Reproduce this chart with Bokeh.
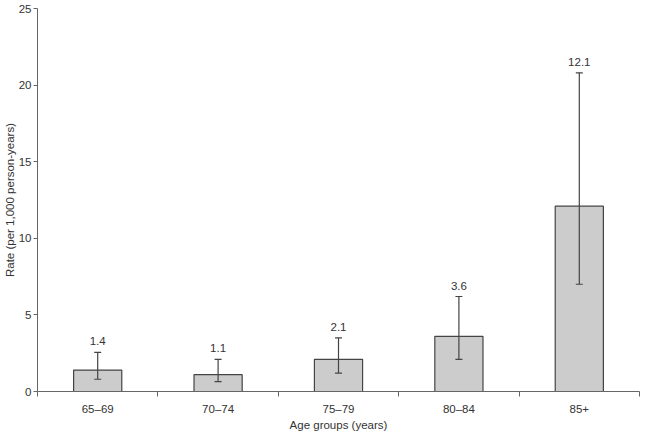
import numpy as np
from bokeh.plotting import figure
from bokeh.models import (ColumnDataSource, FactorRange, Range1d, LinearAxis,
                          FixedTicker, Whisker, TeeHead)
from bokeh.embed import file_html
from bokeh.resources import INLINE
from bokeh.core.properties import value

categories = ["65–69", "70–74", "75–79", "80–84", "85+"]
rates = [1.4, 1.1, 2.1, 3.6, 12.1]
lower_ci = [0.8, 0.65, 1.2, 2.1, 7.0]
upper_ci = [2.55, 2.1, 3.5, 6.2, 20.8]
rate_labels = ["1.4", "1.1", "2.1", "3.6", "12.1"]
y_ticks = [0, 5, 10, 15, 20, 25]

FONT = "Liberation Sans"
AXIS_COLOR = "#666666"
TEXT_COLOR = "#333333"

source = ColumnDataSource(dict(x=categories, rate=rates, lower=lower_ci,
                               upper=upper_ci, label=rate_labels))

p = figure(width=640, height=433,
           x_range=FactorRange(*categories, range_padding=0),
           y_range=Range1d(0, 25),
           x_axis_type=None, y_axis_type=None,
           output_backend="svg", toolbar_location=None)
p.min_border_top = 8
p.min_border_right = 1
p.min_border_left = 0
p.min_border_bottom = 0
p.outline_line_color = None
p.xgrid.visible = False
p.ygrid.visible = False
p.background_fill_color = "white"
p.border_fill_color = "white"

# x axis: labels at category centres, ticks at category boundaries
n = len(categories)
centers = list(np.arange(n) + 0.5)
bounds = list(np.arange(n + 1).astype(float))
xaxis = LinearAxis(ticker=FixedTicker(ticks=centers, minor_ticks=bounds))
xaxis.major_label_overrides = {float(c): cat for c, cat in zip(centers, categories)}
xaxis.major_tick_line_color = None
xaxis.minor_tick_in = 0
xaxis.minor_tick_out = 5
xaxis.minor_tick_line_color = AXIS_COLOR
xaxis.axis_line_color = AXIS_COLOR
xaxis.axis_label = "Age groups (years)"
xaxis.axis_label_text_font = FONT
xaxis.axis_label_text_font_style = "normal"
xaxis.axis_label_text_font_size = "11.5px"
xaxis.axis_label_text_color = TEXT_COLOR
xaxis.axis_label_standoff = 1
xaxis.major_label_text_font = FONT
xaxis.major_label_text_font_size = "11.5px"
xaxis.major_label_text_color = TEXT_COLOR
xaxis.major_label_standoff = 5
p.add_layout(xaxis, "below")

yaxis = LinearAxis(ticker=FixedTicker(ticks=y_ticks))
yaxis.minor_tick_line_color = None
yaxis.major_tick_in = 0
yaxis.major_tick_out = 4
yaxis.major_tick_line_color = AXIS_COLOR
yaxis.axis_line_color = AXIS_COLOR
yaxis.axis_label = "Rate (per 1,000 person-years)"
yaxis.axis_label_text_font = FONT
yaxis.axis_label_text_font_style = "normal"
yaxis.axis_label_text_font_size = "11.5px"
yaxis.axis_label_text_color = TEXT_COLOR
yaxis.axis_label_standoff = 0
yaxis.major_label_text_font = FONT
yaxis.major_label_text_font_size = "11.5px"
yaxis.major_label_text_color = TEXT_COLOR
yaxis.major_label_standoff = 2
p.add_layout(yaxis, "left")

p.vbar(x="x", top="rate", width=0.4, source=source,
       fill_color="#cccccc", line_color="#444444", line_width=1.2)

whisker = Whisker(base="x", upper="upper", lower="lower", source=source,
                  line_color="#444444", line_width=1.2, level="overlay",
                  upper_head=TeeHead(size=7, line_color="#444444", line_width=1.2),
                  lower_head=TeeHead(size=7, line_color="#444444", line_width=1.2))
p.add_layout(whisker)

p.text(x="x", y="upper", text="label", source=source, y_offset=-7,
       text_align="center", text_baseline="bottom",
       text_font=value(FONT), text_font_size="11.5px", text_color=TEXT_COLOR)

open("out.html", "w").write(file_html(p, INLINE))
